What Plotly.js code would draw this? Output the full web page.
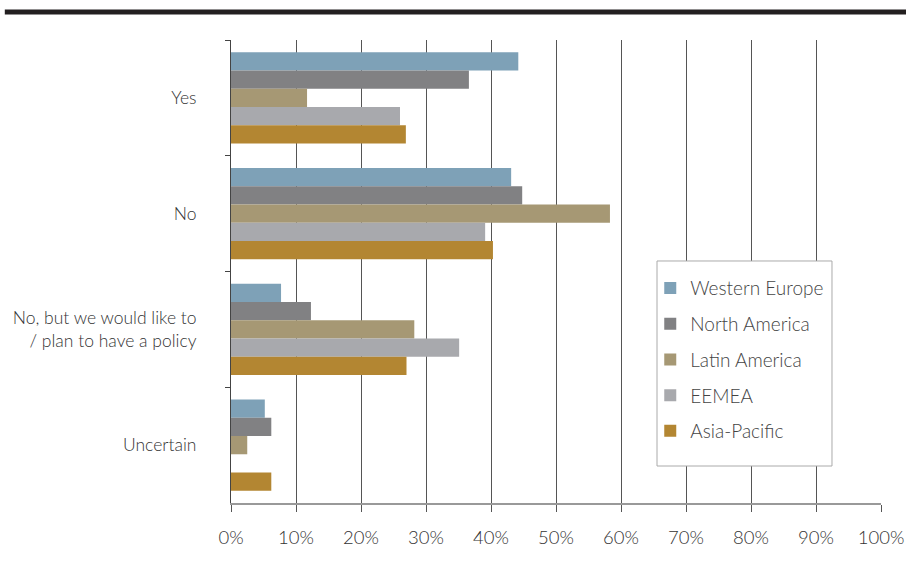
<!DOCTYPE html>
<html>
<head>
<meta charset="utf-8">
<script src="https://cdn.plot.ly/plotly-3.0.1.min.js"></script>
<style>html,body{margin:0;padding:0;background:#fff;}#chart{width:906px;height:569px;}</style>
</head>
<body>
<div id="chart"></div>
<script>
const categories = ["Yes", "No", "No, but we would like to<br>/ plan to have a policy", "Uncertain"];
const seriesNames = ["Western Europe", "North America", "Latin America", "EEMEA", "Asia-Pacific"];
const westernEurope = [44.2, 43.1, 7.7, 5.2];
const northAmerica = [36.6, 44.8, 12.3, 6.2];
const latinAmerica = [11.7, 58.3, 28.2, 2.5];
const eemea = [26.0, 39.1, 35.1, 0];
const asiaPacific = [26.9, 40.3, 27.0, 6.2];
const xTickVals = [0, 10, 20, 30, 40, 50, 60, 70, 80, 90, 100];
const xTickText = ["0%", "10%", "20%", "30%", "40%", "50%", "60%", "70%", "80%", "90%", "100%"];
const colors = ["#7ea1b7", "#818183", "#a69874", "#a8a9ad", "#b38632"];

const values = [westernEurope, northAmerica, latinAmerica, eemea, asiaPacific];
const FONT = "Lato, 'Open Sans', sans-serif";

const traces = values.map((v, i) => ({
  type: "bar",
  orientation: "h",
  name: seriesNames[i],
  x: v,
  y: categories,
  marker: {color: colors[i]},
  legendgroup: "g" + i,
  hoverinfo: "x+name"
}));

const layout = {
  width: 906,
  height: 569,
  margin: {l: 231, r: 25, t: 40, b: 66},
  paper_bgcolor: "#fff",
  plot_bgcolor: "#fff",
  font: {family: FONT, color: "#333", size: 15, weight: 300},
  barmode: "group",
  bargap: 0.21,
  bargroupgap: 0,
  xaxis: {
    range: [0, 100],
    tickvals: xTickVals,
    ticktext: xTickText,
    showgrid: true,
    gridcolor: "#555",
    gridwidth: 1,
    showline: true,
    linecolor: "#999",
    linewidth: 2,
    ticks: "outside",
    ticklen: 7,
    tickcolor: "#555",
    tickfont: {size: 18.5, color: "#333", family: FONT, weight: 300},
    ticklabelstandoff: 10,
    zeroline: false,
    fixedrange: true
  },
  yaxis: {
    type: "category",
    autorange: "reversed",
    showgrid: false,
    showline: true,
    linecolor: "#444",
    linewidth: 1,
    ticks: "outside",
    tickson: "boundaries",
    ticklen: 5,
    tickcolor: "#444",
    tickfont: {size: 17.5, color: "#333", family: FONT, weight: 300},
    ticklabelstandoff: 30,
    zeroline: false,
    fixedrange: true
  },
  showlegend: true,
  legend: {
    x: 0.645,
    y: 0.505,
    xanchor: "left",
    yanchor: "top",
    bgcolor: "rgba(255,255,255,0)",
    borderwidth: 0,
    traceorder: "grouped",
    tracegroupgap: 8,
    font: {size: 19, color: "#444", family: FONT, weight: 300},
    itemwidth: 30
  },
  shapes: [{
    type: "line",
    xref: "paper",
    yref: "paper",
    x0: -0.348,
    x1: 1.04,
    y0: 1.0605,
    y1: 1.0605,
    line: {color: "#231f20", width: 5}
  }, {
    type: "rect",
    xref: "paper",
    yref: "paper",
    layer: "above",
    x0: 0.6554,
    x1: 0.9246,
    y0: 0.0799,
    y1: 0.5227,
    fillcolor: "#fff",
    line: {color: "#aaa", width: 1}
  }]
};

Plotly.newPlot("chart", traces, layout, {displayModeBar: false, staticPlot: true});
</script>
</body>
</html>
